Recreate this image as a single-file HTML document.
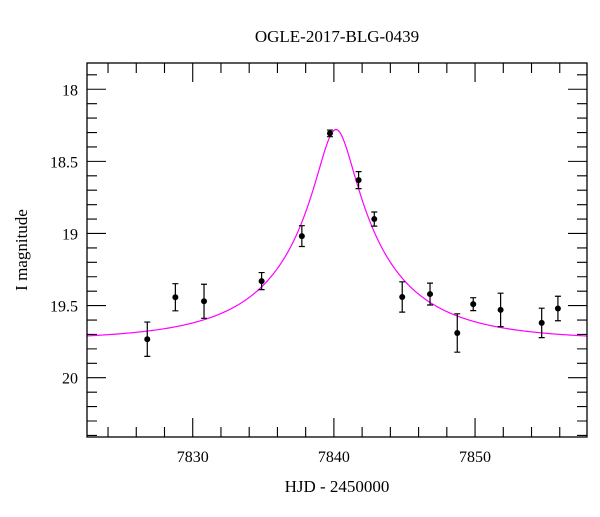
<!DOCTYPE html>
<html><head><meta charset="utf-8"><style>
body{margin:0;background:#fff;}
svg text{font-family:"Liberation Serif",serif;fill:#000;}
</style></head><body>
<svg id="chart" width="600" height="512" viewBox="0 0 600 512" xmlns="http://www.w3.org/2000/svg">
<text x="337" y="42" text-anchor="middle" font-size="17">OGLE-2017-BLG-0439</text>
<text x="337" y="492" text-anchor="middle" font-size="17">HJD - 2450000</text>
<text transform="translate(27,250) rotate(-90)" text-anchor="middle" font-size="17">I magnitude</text>
<g id="ticks"></g>
<path id="model" fill="none" stroke="#ff00ff" stroke-width="1.2"/>
<g id="pts"></g>
<rect x="87" y="63" width="500" height="374" fill="none" stroke="#000" stroke-width="1.3"/>
</svg>
<script>
const days = [7826.78,7828.77,7830.80,7834.88,7837.73,7839.72,7841.75,7842.86,7844.84,7846.81,7848.74,7849.87,7851.81,7854.72,7855.87];
const mags = [19.733,19.442,19.47,19.33,19.018,18.306,18.63,18.90,19.44,19.42,19.69,19.49,19.53,19.62,19.52];
const errs = [0.119,0.094,0.118,0.059,0.072,0.023,0.059,0.049,0.105,0.076,0.133,0.045,0.116,0.102,0.085];
const xTickLabels = ["7830","7840","7850"];
const yTickLabels = ["18","18.5","19","19.5","20"];
const t0 = 7840.15, tE = 8.6, u0 = 0.151, fs = 0.5, Ibase = 19.74;
const L=87,R=587,T=63,B=437;
const xmin=7822.51,xmax=7857.93,ymin=17.818,ymax=20.411;
const X=v=>L+(v-xmin)/(xmax-xmin)*(R-L);
const Y=v=>T+(v-ymin)/(ymax-ymin)*(B-T);
const NS="http://www.w3.org/2000/svg";
function mk(tag,attrs,parent){const e=document.createElementNS(NS,tag);for(const k in attrs)e.setAttribute(k,attrs[k]);parent.appendChild(e);return e;}
const tk=document.getElementById('ticks');
let d="";
for(let v=7824;v<=7856;v+=2){const x=X(v);const maj=(v%10===0);const len=maj?19:10;d+=`M${x},${B}v${-len}M${x},${T}v${len}`;}
for(let i=0;i<=25;i++){const v=17.9+i*0.1;if(v>ymax)break;const y=Y(v);const maj=Math.abs(v*2-Math.round(v*2))<1e-6;const len=maj?19:10;d+=`M${L},${y}h${len}M${R},${y}h${-len}`;}
const tp=mk('path',{d:d,stroke:'#000','stroke-width':1.1,fill:'none'},tk);


xTickLabels.forEach(s=>{const t=mk('text',{x:X(+s),y:462,'text-anchor':'middle','font-size':16},tk);t.textContent=s;

});
yTickLabels.forEach(s=>{const t=mk('text',{x:78,y:Y(+s)+6,'text-anchor':'end','font-size':16},tk);t.textContent=s;

});
function A(u){return (u*u+2)/(u*Math.sqrt(u*u+4));}
let p="";
for(let i=0;i<=600;i++){const t=xmin+(xmax-xmin)*i/600;const tau=(t-t0)/tE;const u=Math.sqrt(u0*u0+tau*tau);const m=Ibase-2.5*Math.log10(fs*(A(u)-1)+1);p+=(i?"L":"M")+X(t).toFixed(2)+","+Y(m).toFixed(2);}
document.getElementById('model').setAttribute('d',p);
const pg=document.getElementById('pts');
days.forEach((t,i)=>{const x=X(t),y=Y(mags[i]),y1=Y(mags[i]-errs[i]),y2=Y(mags[i]+errs[i]);
const e=mk('path',{d:`M${x},${y1}V${y2}M${x-3},${y1}h6M${x-3},${y2}h6`,stroke:'#000','stroke-width':1.2,fill:'none'},pg);


const c=mk('circle',{cx:x,cy:y,r:3,fill:'#000'},pg);

});
</script>
</body></html>
